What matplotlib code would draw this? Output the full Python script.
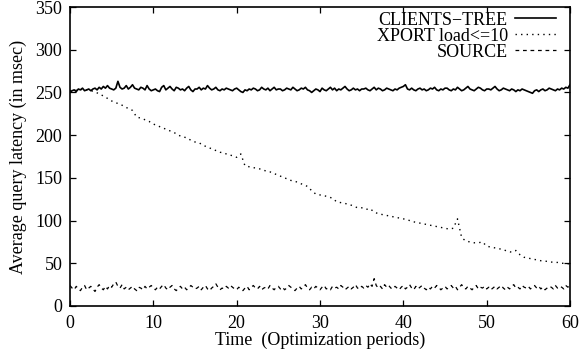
import numpy as np
import matplotlib
matplotlib.use("Agg")
import matplotlib.pyplot as plt

plt.rcParams['font.family'] = ['Liberation Serif', 'DejaVu Serif']
plt.rcParams['font.size'] = 13
plt.rcParams['lines.dash_capstyle'] = 'butt'

x_ticks = [0, 10, 20, 30, 40, 50, 60]
y_ticks = [0, 50, 100, 150, 200, 250, 300, 350]
x_label = "Time  (Optimization periods)"
y_label = "Average query latency (in msec)"
series_names = ["CLIENTS\u2212TREE", "XPORT load<=10", "SOURCE"]

clients_tree = [
    250,
    252, 253, 251, 254, 253, 255, 252, 253, 254, 252, 254, 255, 253, 256, 254, 257, 255, 258, 255, 254,
    253, 255, 263, 256, 254, 255, 258, 254, 256, 259, 255, 254, 253, 256, 255, 253, 258, 254, 252, 253,
    254, 252, 251, 256, 258, 253, 255, 257, 254, 252, 256, 255, 253, 254, 252, 255, 257, 253, 251, 254,
    254, 256, 253, 255, 254, 258, 255, 253, 254, 256, 253, 252, 254, 253, 255, 254, 253, 252, 254, 255,
    253, 251, 250, 253, 252, 254, 253, 255, 254, 252, 253, 256, 254, 253, 255, 252, 254, 256, 253, 254,
    254, 252, 253, 255, 254, 253, 256, 254, 252, 253, 255, 254, 256, 253, 252, 250, 252, 254, 253, 251,
    255, 253, 252, 254, 256, 253, 255, 252, 254, 253, 255, 257, 254, 252, 253, 255, 253, 254, 252, 254,
    254, 255, 253, 252, 254, 256, 253, 255, 254, 252, 253, 255, 254, 253, 252, 254, 253, 255, 256, 257,
    259, 254, 253, 255, 253, 252, 254, 255, 253, 254, 252, 253, 255, 254, 256, 253, 252, 254, 253, 255,
    255, 253, 252, 254, 253, 256, 254, 252, 253, 255, 257, 254, 253, 252, 254, 256, 255, 253, 252, 254,
    254, 253, 255, 257, 254, 252, 253, 255, 254, 253, 252, 254, 253, 251, 253, 252, 254, 253, 252, 251,
    250, 249, 252, 253, 251, 253, 254, 252, 253, 255, 254, 253, 252, 254, 253, 255, 254, 256, 255, 259,
]

xport = [
    252, 253, 252, 254, 253, 252, 251, 248, 246, 243,
    240, 238, 236, 234, 231, 229, 221, 220, 218, 216,
    213, 211, 209, 207, 205, 203, 200, 198, 197, 194,
    192, 191, 188, 186, 184, 182, 180, 179, 177, 176,
    174, 178, 164, 163, 162, 161, 160, 158, 157, 155,
    153, 151, 149, 147, 146, 144, 142, 140, 135, 131,
    130, 129, 128, 126, 122, 121, 120, 119, 117, 115,
    115, 113, 114, 110, 108, 107, 106, 105, 104, 103,
    102, 101, 99, 98, 97, 96, 95, 94, 93, 92,
    91, 90, 91, 102, 80, 76, 75, 74, 74, 75,
    70, 69, 68, 67, 66, 64, 63, 65, 60, 57,
    56, 55, 54, 53, 52.5, 52, 51, 51, 50, 50,
    49,
]

source = [
    24,
    21, 19, 23, 20, 18, 22, 24, 19, 21, 23, 20, 17, 22, 25, 21, 19, 23, 20, 24, 22,
    26, 28, 23, 21, 25, 20, 22, 19, 21, 23, 20, 18, 22, 21, 19, 23, 20, 22, 24, 21,
    19, 22, 20, 23, 25, 21, 19, 22, 24, 20, 18, 21, 23, 20, 22, 19, 21, 24, 22, 20,
    21, 23, 19, 22, 24, 20, 18, 21, 23, 26, 22, 19, 21, 20, 23, 21, 24, 22, 20, 19,
    22, 20, 18, 21, 23, 19, 22, 24, 21, 20, 23, 19, 21, 22, 20, 24, 21, 19, 22, 23,
    20, 22, 19, 21, 24, 22, 20, 18, 21, 23, 20, 22, 25, 21, 19, 22, 20, 23, 21, 19,
    22, 24, 20, 21, 19, 23, 21, 22, 20, 24, 22, 19, 21, 23, 20, 22, 25, 21, 20, 23,
    21, 24, 22, 26, 23, 32, 24, 21, 23, 20, 25, 22, 24, 21, 20, 23, 21, 19, 22, 24,
    20, 22, 25, 21, 19, 23, 20, 22, 24, 21, 19, 22, 20, 23, 21, 24, 22, 19, 21, 23,
    20, 22, 24, 21, 23, 19, 22, 25, 21, 20, 23, 21, 19, 22, 24, 20, 22, 21, 23, 20,
    22, 19, 21, 23, 20, 22, 24, 21, 19, 22, 20, 23, 25, 21, 22, 20, 24, 22, 21, 23,
    20, 22, 24, 21, 23, 20, 22, 19, 21, 23, 22, 20, 24, 21, 23, 22, 20, 24, 22, 25,
]

t_clients = np.linspace(0, 60, len(clients_tree))
t_xport = np.linspace(0, 60, len(xport))
t_source = np.linspace(0, 60, len(source))

fig = plt.figure(figsize=(5.8, 3.55), dpi=100)
ax = fig.add_axes([70/580, 1-306/355, 500/580, 299/355])

ax.plot(t_clients, clients_tree, color='black', lw=1.2, ls='-', label=series_names[0])
ax.plot(t_xport, xport, color='black', lw=1.0, ls=(0, (1, 3)), label=series_names[1])
ax.plot(t_source, source, color='black', lw=0.9, ls=(0, (3, 3)), label=series_names[2])

ax.set_xlim(0, 60)
ax.set_ylim(0, 350)
ax.set_xticks(x_ticks)
ax.set_yticks(y_ticks)
ax.tick_params(direction='in', length=4.3, width=0.9, top=True, right=True,
               labelsize=13)
ax.tick_params(axis='y', pad=5.5)
ax.tick_params(axis='x', pad=6.5)
for s in ax.spines.values():
    s.set_linewidth(1.2)
ax.set_xlabel(x_label, fontsize=13, labelpad=0)
ax.set_ylabel(y_label, fontsize=13, labelpad=6)

leg = ax.legend(loc='upper right', bbox_to_anchor=(1.0, 1.03),
                frameon=False, markerfirst=False,
                handlelength=2.3, handletextpad=0.4, labelspacing=-0.05,
                borderaxespad=0.55, borderpad=0.2, fontsize=13)
for col in leg._legend_handle_box.get_children():
    col.align = 'right'

fig.savefig("out.png", dpi=100)
